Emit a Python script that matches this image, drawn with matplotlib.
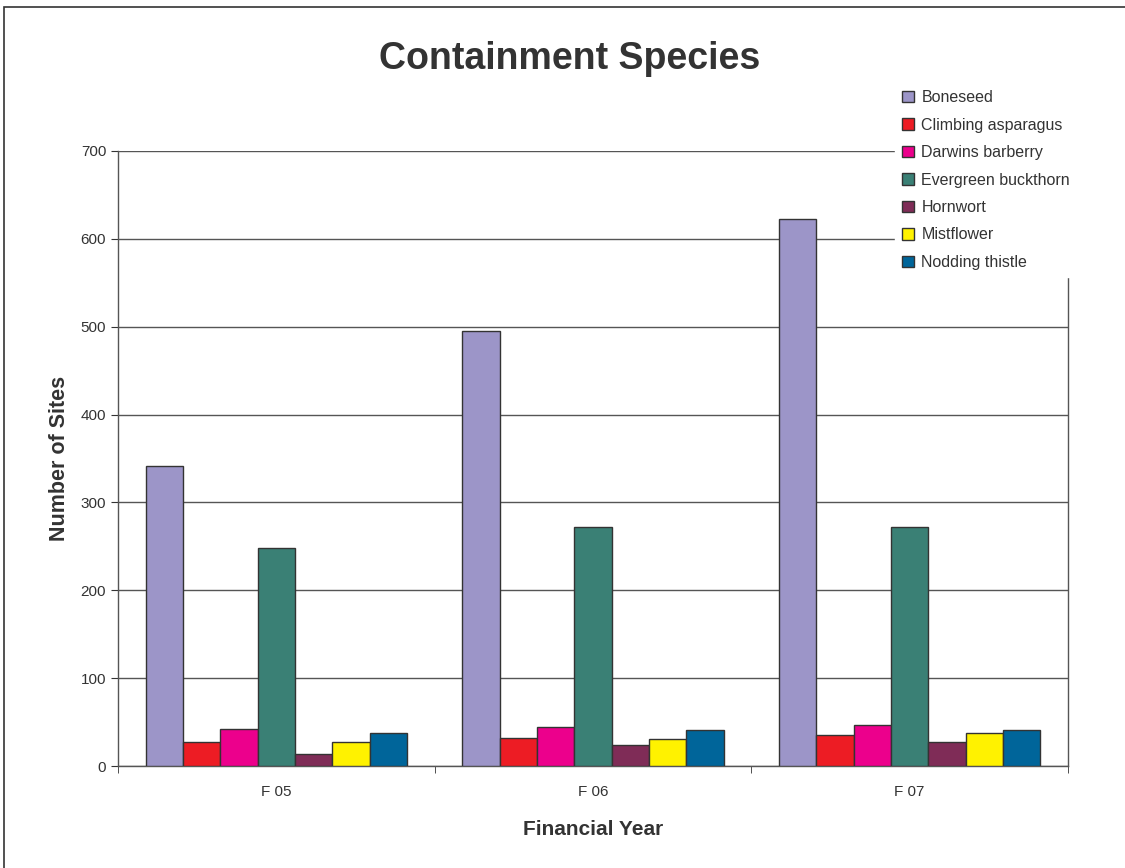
import matplotlib.pyplot as plt
import numpy as np
from matplotlib.patches import Rectangle

plt.rcParams['font.family'] = ['Liberation Sans', 'DejaVu Sans']

years = ["F 05", "F 06", "F 07"]
species = ["Boneseed", "Climbing asparagus", "Darwins barberry",
           "Evergreen buckthorn", "Hornwort", "Mistflower", "Nodding thistle"]
boneseed = [341, 495, 623]
climbing_asparagus = [27, 32, 35]
darwins_barberry = [42, 44, 47]
evergreen_buckthorn = [248, 272, 272]
hornwort = [14, 24, 27]
mistflower = [27, 31, 38]
nodding_thistle = [38, 41, 41]
colors = ["#9c95c8", "#ed1c24", "#ec008c", "#3a8075", "#7f2c57", "#fff200", "#00659a"]


def main():
    series = [boneseed, climbing_asparagus, darwins_barberry, evergreen_buckthorn,
              hornwort, mistflower, nodding_thistle]

    fig = plt.figure(figsize=(11.25, 8.68), dpi=100)
    ax = fig.add_axes([118 / 1125, 102 / 868, 950 / 1125, 615 / 868])

    x = np.arange(len(years))
    width = 0.118
    for i, (vals, name, col) in enumerate(zip(series, species, colors)):
        ax.bar(x + (i - 3) * width, vals, width, color=col, edgecolor="#333333",
               linewidth=1.0, label=name, zorder=3)

    ax.set_xlim(-0.5, 2.5)
    ax.set_ylim(0, 700)
    ax.set_yticks(range(0, 701, 100))
    ax.set_xticks(x)
    ax.set_xticklabels(years)
    ax.set_xticks([-0.5, 0.5, 1.5, 2.5], minor=True)
    ax.tick_params(axis="x", which="major", length=0, pad=14, labelsize=11, colors="#333333")
    ax.tick_params(axis="x", which="minor", length=5, direction="out", color="#333333")
    ax.tick_params(axis="y", length=5, direction="out", labelsize=11, colors="#333333")
    ax.yaxis.grid(True, color="#555555", linewidth=1.0, zorder=0)
    ax.set_axisbelow(True)
    for side in ["left", "bottom", "right"]:
        ax.spines[side].set_color("#555555")
        ax.spines[side].set_linewidth(1.0)
    ax.spines["top"].set_visible(False)

    ax.set_ylabel("Number of Sites", fontsize=15.5, fontweight="bold", color="#333333", labelpad=8)
    ax.set_xlabel("Financial Year", fontsize=15, fontweight="bold", color="#333333", labelpad=15)
    fig.text(570 / 1125, 1 - 59 / 868, "Containment Species", ha="center", va="center",
             fontsize=27, fontweight="bold", color="#333333")

    leg = fig.legend(loc="upper left", bbox_to_anchor=(895 / 1125, 1 - 83 / 868),
                     frameon=True, fontsize=11.5, handlelength=0.75, handleheight=0.75,
                     handletextpad=0.45, labelspacing=0.78, borderpad=0.45,
                     borderaxespad=0)
    leg.get_frame().set_facecolor("white")
    leg.get_frame().set_edgecolor("white")
    leg.get_frame().set_alpha(1)
    leg.get_frame().set_boxstyle("square", pad=0)
    leg.set_zorder(10)
    for t in leg.get_texts():
        t.set_color("#333333")

    fig.patches.append(Rectangle((4 / 1125, -0.01), 1.1, 1 - 7 / 868 + 0.01,
                                 transform=fig.transFigure, fill=False,
                                 edgecolor="#333333", linewidth=1.2))

    fig.savefig("out.png", dpi=100)


if __name__ == '__main__':
    main()
